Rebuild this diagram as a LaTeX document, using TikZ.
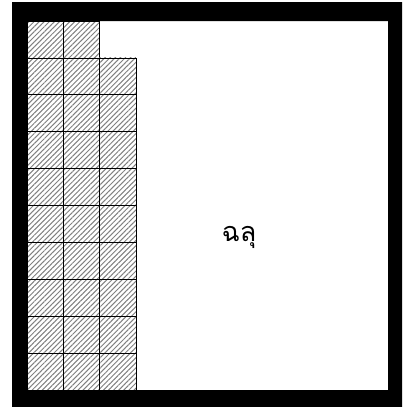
\documentclass[tikz,border=0pt]{standalone}
\usepackage{fontspec}
\newfontfamily\thaifont[Script=Thai]{Loma}
\usetikzlibrary{patterns.meta}

\tikzset{
  cell/.style={draw=black, line width=0.7pt, pattern={Lines[angle=45,distance=3.6pt,line width=1pt]}, pattern color=gray},
}

\begin{document}
\begin{tikzpicture}[x=1pt,y=-1pt]
		\useasboundingbox (0,0) rectangle (402,407);
		
		% thick frame
		\fill[black, even odd rule] (12,2) rectangle (402,407) (27,21) rectangle (388,390);
		
		% top row, two cells
		\foreach \i in {0,1}
			\draw[cell] (27+36.33*\i,21) rectangle +(36.33,36.9);
		
		% other rows, three cells
		\foreach \j in {1,...,9}
			\foreach \i in {0,1,2}
				\draw[cell] (27+36.33*\i,21+36.9*\j) rectangle +(36.33,36.9);
		
		\node[font=\thaifont\fontsize{27}{32}\selectfont] (hole) at (239,237) {ฉลุ};
	\end{tikzpicture}
\end{document}
